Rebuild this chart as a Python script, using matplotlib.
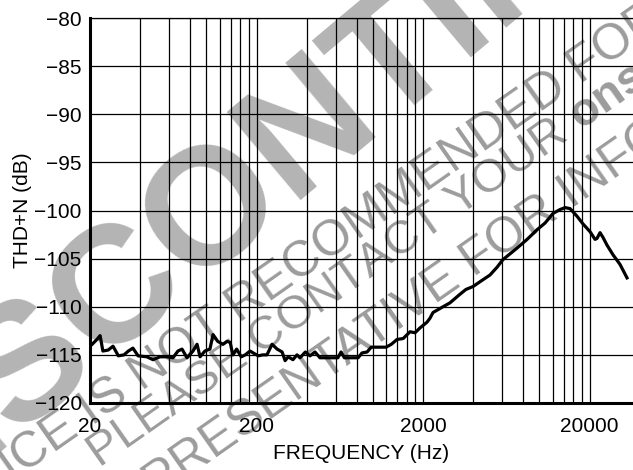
import matplotlib
matplotlib.use("Agg")
import matplotlib.pyplot as plt
from matplotlib.ticker import NullFormatter

# THD+N vs frequency
freq = [20, 20.6, 22, 23, 23.9, 25.7, 27.5, 29.6, 32, 34, 36.2, 38.9, 43.9, 47.8,
        52.6, 58, 63, 67.5, 71.4, 76.5, 83.1, 87.9, 91.6, 98, 105, 109.6, 117,
        126, 133, 139, 144, 152, 162, 171, 183, 191, 205, 218, 231, 248, 266,
        285, 297, 310, 331, 350, 365, 393, 419, 449, 481, 616, 644, 674, 815,
        860, 923, 977, 1200, 1290, 1396, 1520, 1671, 1790, 1918, 2114, 2200,
        2296, 2637, 2900, 3334, 3622, 3993, 4398, 5051, 5562, 6040, 6666, 7345,
        8434, 9682, 10814, 12080, 13300, 14256, 15270, 16830, 18280, 20140,
        21580, 22180, 23120, 24100, 25470, 27670, 30480, 33580]
thdn = [-114.1, -113.9, -113.4, -113.0, -114.6, -114.5, -114.1, -115.1, -115.0,
        -114.6, -114.3, -115.1, -115.2, -115.5, -115.2, -115.2, -115.3, -114.6,
        -114.4, -115.3, -114.6, -113.9, -115.2, -114.6, -114.4, -112.9, -113.6,
        -113.9, -113.6, -113.7, -115.0, -114.4, -115.2, -115.0, -114.6, -114.8,
        -115.1, -115.0, -115.0, -113.9, -114.4, -114.7, -115.6, -115.2, -115.5,
        -115.0, -115.3, -114.7, -115.1, -114.7, -115.3, -115.3, -114.7, -115.3,
        -115.3, -114.8, -114.7, -114.2, -114.2, -113.9, -113.4, -113.3, -112.6,
        -112.7, -112.2, -111.6, -111.2, -110.6, -110.0, -109.6, -108.7, -108.2,
        -107.9, -107.4, -106.7, -105.9, -105.1, -104.5, -103.9, -103.0, -102.0,
        -101.3, -100.3, -99.9, -99.7, -99.8, -100.6, -101.4, -102.2, -103.0,
        -102.9, -102.3, -102.8, -103.6, -104.6, -105.6, -107.0]

x_major = [20, 200, 2000, 20000]
x_labels = ["20", "200", "2000", "20000"]
x_grid = [20 * k * 10 ** d for d in range(4) for k in range(2, 10)]
y_ticks = [-120, -115, -110, -105, -100, -95, -90, -85, -80]

plt.rcParams['font.family'] = ['Liberation Sans', 'DejaVu Sans']
plt.rcParams['mathtext.fontset'] = 'custom'
plt.rcParams['mathtext.bf'] = 'Liberation Sans:bold'

W, H = 633, 470
fig = plt.figure(figsize=(W / 100, H / 100), dpi=100)


def px(x, y):
    return x / W, 1 - y / H


# watermark, under everything
fig.text(*px(345, 98), "DISCONTINUED", rotation=40, rotation_mode='anchor',
         ha='center', va='center', fontsize=120, fontweight='bold',
         color='#b4b4b4', zorder=-2)
wm = dict(rotation=35, rotation_mode='anchor', ha='center', va='center',
          color='#9c9c9c', zorder=-1)
fig.text(*px(428, 175), "DEVICE IS NOT RECOMMENDED FOR NEW DESIGN",
         fontsize=36, **wm)
fig.text(*px(400, 243), r"PLEASE CONTACT YOUR $\mathbf{onsemi}$",
         fontsize=34, **wm)
fig.text(*px(470, 264), "REPRESENTATIVE FOR INFORMATION", fontsize=36, **wm)

ax = fig.add_axes([90 / W, 1 - 403 / H, 543 / W, 385 / H])
ax.set_facecolor('none')
ax.set_xscale('log')
ax.plot(freq, thdn, color='black', lw=2.3, zorder=3)
ax.set_xlim(20, 36480)
ax.set_ylim(-120, -80)

ax.set_xticks(x_major)
ax.set_xticklabels(x_labels)
ax.set_xticks([v for v in x_grid if v < 36480], minor=True)
ax.xaxis.set_minor_formatter(NullFormatter())
ax.set_yticks(y_ticks)
ax.set_yticklabels(["\u2212%d" % abs(v) for v in y_ticks])
ax.grid(which='both', color='black', lw=0.9)
ax.tick_params(which='both', length=0, labelsize=15)
ax.tick_params(axis='x', pad=10)
ax.tick_params(axis='y', pad=6)

ax.spines['right'].set_visible(False)
ax.spines['top'].set_linewidth(0.9)
ax.spines['left'].set_linewidth(2.2)
ax.spines['bottom'].set_linewidth(2.2)

ax.set_xlabel("FREQUENCY (Hz)", fontsize=15, labelpad=6)
ax.set_ylabel("THD+N (dB)", fontsize=15, labelpad=2)

fig.savefig("out.png", dpi=100)
